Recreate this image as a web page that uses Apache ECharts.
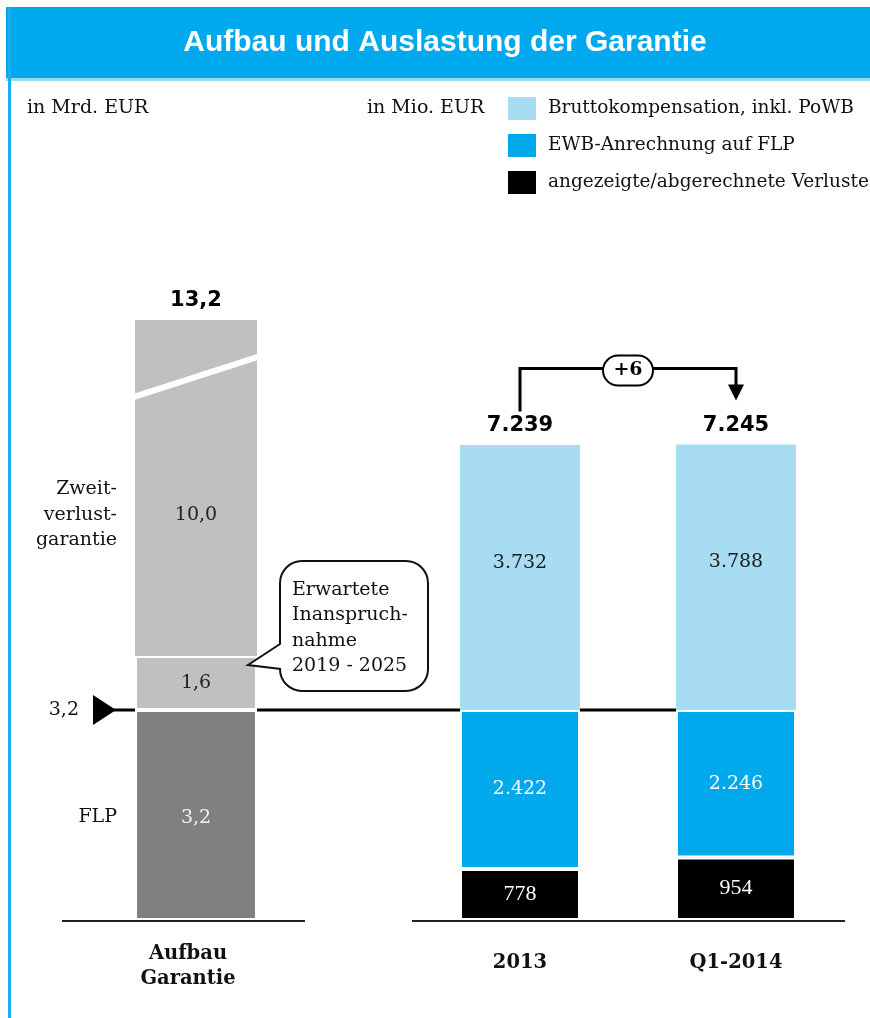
<!DOCTYPE html>
<html>
<head>
<meta charset="utf-8">
<script src="https://cdn.jsdelivr.net/npm/echarts@6/dist/echarts.min.js"></script>
<style>
  html, body { margin: 0; padding: 0; background: #fff; }
  #chart { width: 870px; height: 1018px; }
</style>
</head>
<body>
<div id="chart"></div>
<script>
// ---- Left panel: structure of the guarantee (Mrd. EUR) ----
const guaranteeCategory = ['Aufbau\nGarantie'];
const flpValues = [3.2];            // first loss piece
const expectedUse = [1.6];          // expected utilisation 2019 - 2025
const secondLoss = [10.0];          // second loss guarantee
const guaranteeTotal = [13.2];

// ---- Right panel: utilisation (Mio. EUR) ----
const periods = ['2013', 'Q1-2014'];
const reportedLosses = [778, 954];
const ewbOnFlp = [2422, 2246];
const grossCompensation = [3732, 3788];
const periodTotals = [7239, 7245];
const totalChange = ['+6'];

const SERIF = '"DejaVu Serif", serif';
const TIMES = '"Liberation Serif", serif';
const SANS = '"Liberation Sans", Arial, sans-serif';
const WIDE_SANS = '"DejaVu Sans", sans-serif';

const C_TITLE = '#00A9EE';
const C_LIGHT = '#A8DCF2';
const C_BLUE = '#00A8EC';
const C_GRAY = '#C0C0C0';
const C_DARK = '#808080';

const fmtMrd = v => Number(v).toFixed(1).replace('.', ',');
const fmtMio = v => String(Math.round(v)).replace(/\B(?=(\d{3})+(?!\d))/g, '.');

const nLoss = 'angezeigte/abgerechnete Verluste';
const nEwb = 'EWB-Anrechnung auf FLP';
const nGross = 'Bruttokompensation, inkl. PoWB';

const secondLossRest = secondLoss.map((v, i) => +(v - expectedUse[i]).toFixed(1));

const chart = echarts.init(document.getElementById('chart'));

const hiddenAxis = {
  axisLine: { show: false }, axisTick: { show: false },
  axisLabel: { show: false }, splitLine: { show: false }
};

const catLabel = {
  fontFamily: SERIF, fontWeight: 'bold', fontSize: 19.5,
  color: '#111', lineHeight: 25
};

const innerLabel = { show: true, position: 'inside', fontFamily: SERIF, fontSize: 19 };
const totalLabel = { show: true, position: 'top', color: '#000',
  fontFamily: WIDE_SANS, fontWeight: 'bold', fontSize: 21 };

const rightBar = { type: 'bar', xAxisIndex: 1, yAxisIndex: 1, barWidth: 120, barGap: '-100%' };

const option = {
  animation: false,
  grid: [
    { left: 76, width: 240, top: 320, bottom: 98 },
    { left: 412, width: 432, top: 320, bottom: 98 }
  ],
  legend: {
    orient: 'vertical', left: 508, top: 97, padding: 0,
    itemWidth: 28, itemHeight: 23, itemGap: 14,
    icon: 'rect', selectedMode: false,
    itemStyle: { borderWidth: 0 },
    data: [nGross, nEwb, nLoss],
    textStyle: { fontFamily: SERIF, fontSize: 18.5, color: '#111', padding: [0, 0, 0, 7] }
  },
  xAxis: [
    { type: 'category', gridIndex: 0, data: guaranteeCategory,
      axisLine: { show: false }, axisTick: { show: false },
      axisLabel: Object.assign({ margin: 21, padding: [0, 16, 0, 0] }, catLabel) },
    { type: 'category', gridIndex: 1, data: periods,
      axisLine: { show: false }, axisTick: { show: false },
      axisLabel: Object.assign({ margin: 30 }, catLabel) }
  ],
  yAxis: [
    Object.assign({
      type: 'value', gridIndex: 0, min: 0, max: 13.2,
      // compressed ranges keep the tall guarantee bar readable next to the FLP
      breaks: [
        { start: 3.8, end: 4.577, gap: 0 },
        { start: 9.067, end: 12.347, gap: 0 }
      ],
      breakArea: { show: false }
    }, hiddenAxis),
    Object.assign({ type: 'value', gridIndex: 1, min: 0, max: 9143 }, hiddenAxis)
  ],
  series: [
    { name: 'FLP', type: 'bar', xAxisIndex: 0, yAxisIndex: 0, stack: 'g', z: 3,
      barWidth: 122, data: flpValues,
      itemStyle: { color: C_DARK, borderColor: '#fff', borderWidth: 2 },
      label: Object.assign({ formatter: p => fmtMrd(p.value), color: '#f2f2f2', offset: [0, 3] }, innerLabel) },
    { name: 'Erwartete Inanspruchnahme', type: 'bar', xAxisIndex: 0, yAxisIndex: 0, stack: 'g', z: 3,
      barWidth: 122, data: expectedUse,
      itemStyle: { color: C_GRAY, borderColor: '#fff', borderWidth: 2 },
      label: Object.assign({ formatter: p => fmtMrd(p.value), color: '#222' }, innerLabel) },
    { name: 'Zweitverlustgarantie', type: 'bar', xAxisIndex: 0, yAxisIndex: 0, stack: 'g',
      barWidth: 122, data: secondLossRest,
      itemStyle: { color: C_GRAY },
      label: Object.assign({ distance: 9, formatter: p => fmtMrd(guaranteeTotal[p.dataIndex]) }, totalLabel) },

    // full total bar behind the stacked components
    Object.assign({ name: 'Gesamt', z: 1, data: periodTotals,
      itemStyle: { color: C_LIGHT },
      label: Object.assign({ distance: 9, formatter: p => fmtMio(p.value) }, totalLabel) }, rightBar),
    Object.assign({ name: nLoss, stack: 'p', z: 3, data: reportedLosses,
      itemStyle: { color: '#000', borderColor: '#fff', borderWidth: 2 },
      label: { show: true, position: 'inside', formatter: p => fmtMio(p.value),
        color: '#fff', fontFamily: TIMES, fontSize: 22 } }, rightBar),
    Object.assign({ name: nEwb, stack: 'p', z: 3, data: ewbOnFlp,
      itemStyle: { color: C_BLUE, borderColor: '#fff', borderWidth: 2 },
      label: Object.assign({ formatter: p => fmtMio(p.value), color: '#fff' }, innerLabel) }, rightBar),
    Object.assign({ name: nGross, stack: 'p', z: 2, data: grossCompensation,
      itemStyle: { color: C_LIGHT },
      label: Object.assign({ formatter: p => fmtMio(p.value), color: '#1a1a1a', offset: [0, -24] }, innerLabel) }, rightBar)
  ]
};

chart.setOption(option);

// ---- annotations placed from the axes' own pixel mapping ----
const yL = v => chart.convertToPixel({ yAxisIndex: 0 }, v);
const yR = v => chart.convertToPixel({ yAxisIndex: 1 }, v);
const xL = i => chart.convertToPixel({ xAxisIndex: 0 }, i);
const xR = i => chart.convertToPixel({ xAxisIndex: 1 }, i);

function txt(x, y, text, opts) {
  const o = Object.assign({ align: 'left', vAlign: 'middle', font: '19px ' + SERIF, fill: '#111', lineHeight: 25.5, z: 20 }, opts || {});
  return {
    type: 'text', x: x, y: y, z: o.z,
    style: {
      text: text, fill: o.fill, font: o.font, lineHeight: o.lineHeight,
      align: o.align, textAlign: o.align,
      verticalAlign: o.vAlign, textVerticalAlign: o.vAlign
    }
  };
}

const base = yL(0);
const flpY = yL(flpValues[0]);
const topL = yL(guaranteeTotal[0]);
const secondMidY = (flpY + topL) / 2;
const barL = xL(0);
const halfL = 60;
const barR0 = xR(0), barR1 = xR(1);
const halfR = 59;
const breakY = yL(12.347);
const expTopY = yL(flpValues[0] + expectedUse[0]);
const totTopY = Math.min(yR(periodTotals[0]), yR(periodTotals[1]));

// callout box
const cb = { x: 280, y: expTopY - 95, w: 148, h: 130 };
const tipX = barL + halfL - 8, tipY = expTopY + 9;

// change bracket
const brY = totTopY - 76;
const ovalW = 50, ovalH = 30;

const elements = [
  // header band
  { type: 'rect', z: 5, shape: { x: 6, y: 7, width: 864, height: 71 }, style: { fill: C_TITLE } },
  { type: 'rect', z: 5, shape: { x: 6, y: 78, width: 864, height: 3 }, style: { fill: '#9BD6F4' } },
  { type: 'rect', z: 5, shape: { x: 8, y: 7, width: 3, height: 1011 }, style: { fill: '#1AAFF0' } },
  txt(445, 43, 'Aufbau und Auslastung der Garantie',
    { align: 'center', font: 'bold 30px ' + SANS, fill: '#fff' }),

  txt(27, 108, 'in Mrd. EUR'),
  txt(367, 108, 'in Mio. EUR'),

  // baselines
  { type: 'line', z: 3, shape: { x1: 62, y1: base + 1, x2: 305, y2: base + 1 }, style: { stroke: '#222', lineWidth: 2 } },
  { type: 'line', z: 3, shape: { x1: 412, y1: base + 1, x2: 845, y2: base + 1 }, style: { stroke: '#222', lineWidth: 2 } },

  // FLP level line running behind the bars
  { type: 'line', z: 0, shape: { x1: 96, y1: flpY, x2: barR1 - halfR, y2: flpY }, style: { stroke: '#000', lineWidth: 3 } },
  { type: 'polygon', z: 3, shape: { points: [[93, flpY - 15], [116, flpY], [93, flpY + 15]] }, style: { fill: '#000' } },
  txt(79, flpY, fmtMrd(flpValues[0]), { align: 'right' }),

  // left side captions
  txt(117, secondMidY, 'Zweit-\nverlust-\ngarantie', { align: 'right' }),
  txt(117, (base + flpY) / 2 + 2, 'FLP', { align: 'right' }),
  txt(barL, secondMidY, fmtMrd(secondLoss[0]), { align: 'center', fill: '#222' }),

  // break mark across the tall segment
  { type: 'line', z: 12, shape: { x1: barL - halfL - 2, y1: breakY + 21, x2: barL + halfL + 2, y2: breakY - 19 },
    style: { stroke: '#fff', lineWidth: 6 } },

  // callout
  { type: 'rect', z: 14, shape: { x: cb.x, y: cb.y, width: cb.w, height: cb.h, r: 22 },
    style: { fill: '#fff', stroke: '#111', lineWidth: 2 } },
  { type: 'polygon', z: 15, shape: { points: [[cb.x + 3, cb.y + 82], [tipX, tipY], [cb.x + 3, cb.y + 108]] },
    style: { fill: '#fff' } },
  { type: 'polyline', z: 16, shape: { points: [[cb.x, cb.y + 83], [tipX, tipY], [cb.x + 1, cb.y + 108]] },
    style: { stroke: '#111', lineWidth: 2, fill: null } },
  txt(cb.x + 12, cb.y + cb.h / 2 + 2, 'Erwartete\nInanspruch-\nnahme\n2019 - 2025', { z: 17 }),

  // change bracket between the two totals
  { type: 'polyline', z: 10, shape: { points: [[barR0, totTopY - 33], [barR0, brY], [barR1, brY], [barR1, totTopY - 58]] },
    style: { stroke: '#000', lineWidth: 3, fill: null } },
  { type: 'polygon', z: 10, shape: { points: [[barR1 - 8, totTopY - 60], [barR1 + 8, totTopY - 60], [barR1, totTopY - 44]] },
    style: { fill: '#000' } },
  { type: 'rect', z: 11, shape: { x: (barR0 + barR1) / 2 - ovalW / 2, y: brY - ovalH / 2 + 2, width: ovalW, height: ovalH, r: 15 },
    style: { fill: '#fff', stroke: '#000', lineWidth: 2 } },
  txt((barR0 + barR1) / 2, brY + 2, totalChange[0], { align: 'center', font: 'bold 19px ' + SERIF, fill: '#000', z: 12 })
];

chart.setOption({ graphic: { elements: elements } });
</script>
</body>
</html>
